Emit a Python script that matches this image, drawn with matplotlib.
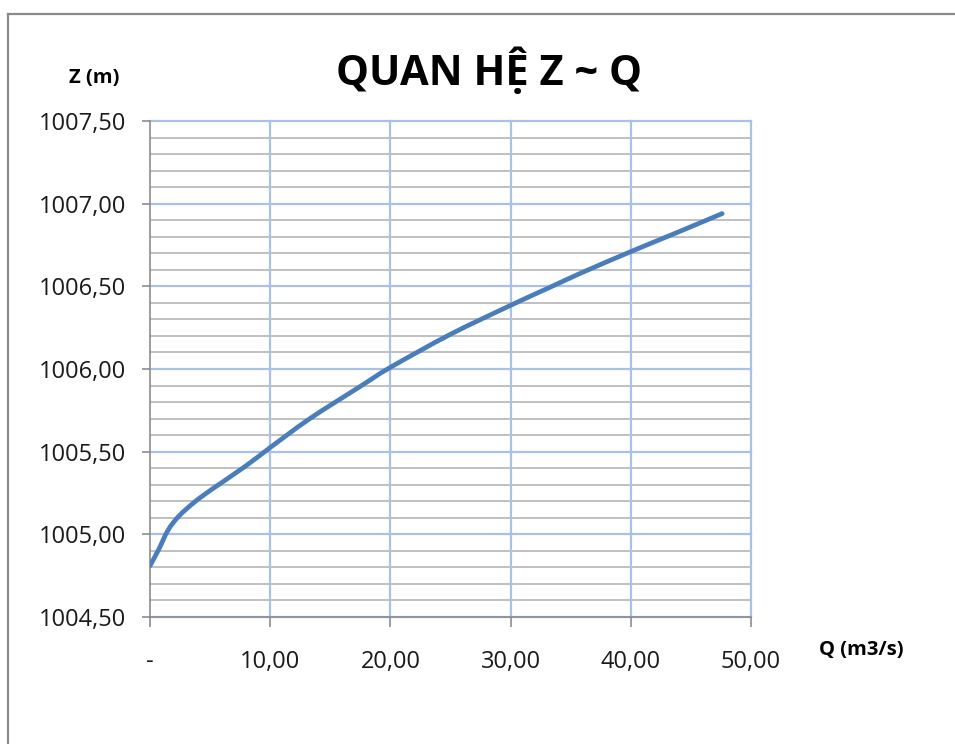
import matplotlib
matplotlib.use("Agg")
import matplotlib.pyplot as plt
from matplotlib.lines import Line2D
from matplotlib.path import Path
from matplotlib.patches import PathPatch
import numpy as np

# Data
Q = [0.0, 0.7, 1.5, 2.4, 3.7, 5.1, 7.9, 10.0, 13.3, 17.5, 20.0, 25.0, 30.0, 33.3, 36.0, 40.0, 44.0, 47.6]
Z = [1004.81, 1004.905, 1005.025, 1005.11, 1005.195, 1005.27, 1005.41, 1005.525, 1005.70,
     1005.895, 1006.01, 1006.21, 1006.385, 1006.495, 1006.585, 1006.71, 1006.83, 1006.94]

x_ticks = [0, 10, 20, 30, 40, 50]
x_tick_labels = ["-", "10,00", "20,00", "30,00", "40,00", "50,00"]
y_ticks = [1004.5, 1005.0, 1005.5, 1006.0, 1006.5, 1007.0, 1007.5]
y_tick_labels = ["1004,50", "1005,00", "1005,50", "1006,00", "1006,50", "1007,00", "1007,50"]
y_minor = [1004.5 + 0.1 * i for i in range(31)]

title = "QUAN HỆ Z ~ Q"
xlabel = "Q (m3/s)"
ylabel = "Z (m)"

W, H = 955, 744
fig = plt.figure(figsize=(W / 100, H / 100), dpi=100)
fig.patch.set_facecolor("white")

ax = fig.add_axes([150 / W, 1 - 617 / H, (751 - 150) / W, (617 - 121) / H])
ax.set_xlim(0, 50)
ax.set_ylim(1004.5, 1007.5)

blue_grid = "#a9c1e6"
gray_grid = "#c0c0c0"

for v in y_minor:
    ax.axhline(v, color=gray_grid, lw=1.4, zorder=1)
for v in y_ticks:
    ax.axhline(v, color=blue_grid, lw=1.6, zorder=1.5, clip_on=False)
for v in x_ticks[1:]:
    ax.axvline(v, color=blue_grid, lw=1.6, zorder=1.5, clip_on=False)

# Smoothed line (Excel-like) drawn as Catmull-Rom Bezier path through the data points
P = np.column_stack([Q, Z])
verts = [tuple(P[0])]
codes = [Path.MOVETO]
n = len(P)
for i in range(n - 1):
    p0 = P[i - 1] if i > 0 else P[i]
    p1 = P[i]
    p2 = P[i + 1]
    p3 = P[i + 2] if i + 2 < n else P[i + 1]
    c1 = p1 + (p2 - p0) / 6.0
    c2 = p2 - (p3 - p1) / 6.0
    verts += [tuple(c1), tuple(c2), tuple(p2)]
    codes += [Path.CURVE4] * 3
path = Path(verts, codes)
ax.add_patch(PathPatch(path, facecolor="none", edgecolor="#4a7ebb", lw=3.4,
                       capstyle="round", joinstyle="round", zorder=3))

ax.set_xticks(x_ticks)
ax.set_xticklabels(x_tick_labels)
ax.set_yticks(y_ticks)
ax.set_yticklabels(y_tick_labels)

for s in ["top", "right"]:
    ax.spines[s].set_visible(False)
for s in ["left", "bottom"]:
    ax.spines[s].set_color("#8c8c8c")
    ax.spines[s].set_linewidth(1.2)
    ax.spines[s].set_zorder(2)

ax.tick_params(axis="y", direction="out", length=6, width=1.2, color="#8c8c8c",
               pad=11, labelsize=17, labelcolor="#1a1a1a")
ax.tick_params(axis="x", direction="out", length=7, width=1.2, color="#8c8c8c",
               pad=17, labelsize=17, labelcolor="#1a1a1a")
for lab in ax.get_xticklabels() + ax.get_yticklabels():
    lab.set_family("Open Sans")

fig.text(489 / W, 1 - 85 / H, title, ha="center", va="baseline",
         fontsize=30, fontweight="bold", family="Open Sans", color="black")
fig.text(94 / W, 1 - 78 / H, ylabel, ha="center", va="center",
         fontsize=14.5, fontweight="bold", family="Open Sans", color="black")
fig.text(861 / W, 1 - 650 / H, xlabel, ha="center", va="center",
         fontsize=14.5, fontweight="bold", family="Open Sans", color="black")

fig.add_artist(Line2D([8 / W, 8 / W], [0, 1 - 14 / H], transform=fig.transFigure,
                      color="#8a8a8a", lw=1.6))
fig.add_artist(Line2D([8 / W, 1.01], [1 - 14 / H, 1 - 14 / H], transform=fig.transFigure,
                      color="#8a8a8a", lw=1.6))

fig.savefig("out.png", dpi=100, facecolor="white")
